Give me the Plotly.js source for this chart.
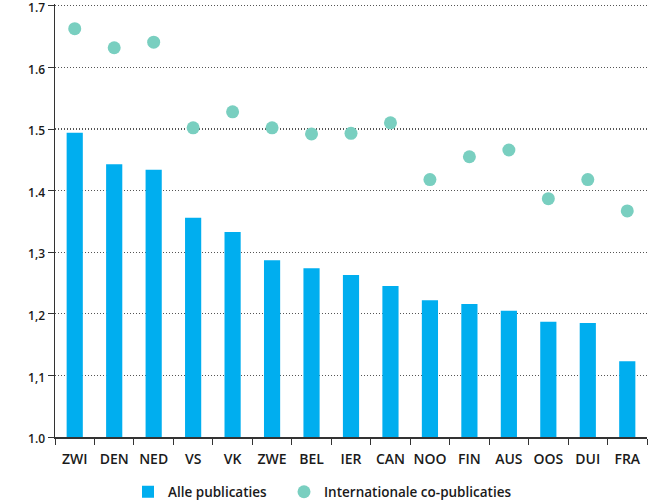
<!DOCTYPE html>
<html><head><meta charset="utf-8">
<script src="https://cdn.plot.ly/plotly-3.0.1.min.js"></script>
<style>html,body{margin:0;padding:0;background:#fff}#chart{width:648px;height:502px}</style>
</head><body><div id="chart"></div>
<script>
const categories = ["ZWI","DEN","NED","VS","VK","ZWE","BEL","IER","CAN","NOO","FIN","AUS","OOS","DUI","FRA"];
const allePublicaties = [1.494,1.443,1.434,1.356,1.333,1.287,1.274,1.263,1.245,1.222,1.216,1.205,1.187,1.185,1.123];
const internationaleCoPublicaties = [1.663,1.632,1.641,1.502,1.528,1.502,1.492,1.493,1.510,1.418,1.455,1.466,1.387,1.418,1.367];
const yTickVals = [1.0,1.1,1.2,1.3,1.4,1.5,1.6,1.7];
const yTickText = ["1.0","1,1","1,2","1,3","1.4","1.5","1.6","1.7"];

const legendFont = {size:13.5, weight:600, color:"#1a1a1a"};
const data = [
  {type:"bar", x:categories, y:allePublicaties, name:"Alle publicaties",
   marker:{color:"#00AEEF"}, width:0.41, legend:"legend"},
  {type:"scatter", mode:"markers", x:categories, y:internationaleCoPublicaties,
   name:"Internationale co-publicaties", marker:{color:"#79CFC0", size:13}, legend:"legend2"}
];
const layout = {
  width:648, height:502,
  margin:{l:55, r:1, t:4, b:65},
  paper_bgcolor:"#fff", plot_bgcolor:"#fff",
  font:{family:"Open Sans, sans-serif", color:"#1a1a1a"},
  showlegend:true,
  legend:{orientation:"h", xref:"container", yref:"container", x:128/648, xanchor:"left",
          y:10/502, yanchor:"middle", font:legendFont, itemwidth:30},
  legend2:{orientation:"h", xref:"container", yref:"container", x:284/648, xanchor:"left",
          y:10/502, yanchor:"middle", font:legendFont, itemwidth:30},
  xaxis:{type:"category", showline:true, linecolor:"#333", linewidth:1.5,
         ticks:"outside", tickson:"boundaries", ticklen:6, tickcolor:"#333",
         tickangle:0, tickfont:{size:14, weight:600}, ticklabelstandoff:9,
         showgrid:false, zeroline:false, range:[-0.5,14.5], automargin:false},
  yaxis:{range:[1.0,1.703], tickvals:yTickVals, ticktext:yTickText,
         showline:true, linecolor:"#333", linewidth:1.5, ticks:"outside",
         ticklen:6, tickcolor:"#333", tickfont:{size:12, weight:600},
         ticklabeloverflow:"allow", ticklabelshift:2, automargin:false,
         showgrid:true, gridcolor:"#555", griddash:"1px,2px", gridwidth:1.2,
         zeroline:false, fixedrange:true},
  bargap:0.5
};
Plotly.newPlot("chart", data, layout, {displayModeBar:false, staticPlot:true});
</script></body></html>
